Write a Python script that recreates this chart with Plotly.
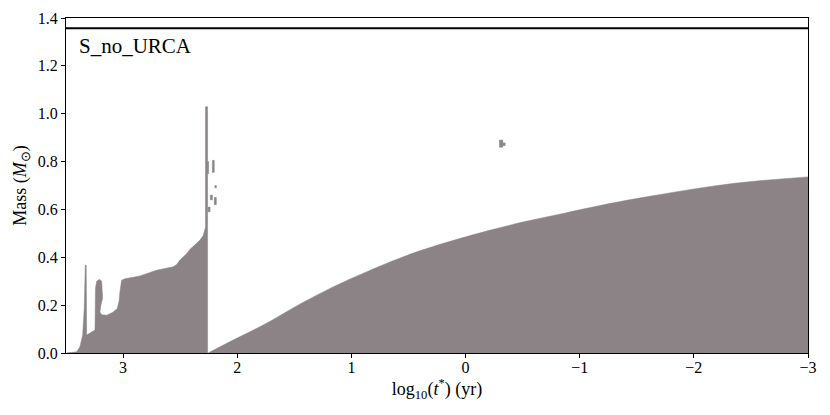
import plotly.graph_objects as go

# model label and total stellar mass
model_name = "S_no_URCA"
total_mass = 1.357

# early convective zone (closed outline: top edge left->right, then back along the base)
early_zone_logt = [3.494, 3.406, 3.378, 3.354, 3.340, 3.331, 3.323, 3.319, 3.246, 3.242,
                   3.231, 3.207, 3.188, 3.179, 3.194, 3.203, 3.188, 3.144, 3.089, 3.051,
                   3.034, 3.028, 3.013, 2.984, 2.853, 2.706, 2.561, 2.531, 2.503, 2.444,
                   2.415, 2.328, 2.299, 2.293, 2.278, 2.278, 2.260, 2.260, 3.494]
early_zone_mass = [0.0, 0.005, 0.026, 0.075, 0.19, 0.367, 0.367, 0.075, 0.096, 0.27,
                   0.30, 0.308, 0.30, 0.23, 0.20, 0.172, 0.16, 0.158, 0.17, 0.186,
                   0.22, 0.255, 0.304, 0.31, 0.322, 0.346, 0.36, 0.37, 0.388, 0.415,
                   0.433, 0.471, 0.49, 0.50, 0.526, 1.029, 1.029, 0.0, 0.0]

# small detached convective patches: (logt_left, logt_right, m_bottom, m_top)
patch_logt_left = [2.218, 2.196, 2.236, 2.201, 2.260, 2.255, -0.297, -0.326]
patch_logt_right = [2.201, 2.183, 2.218, 2.183, 2.251, 2.238, -0.326, -0.347]
patch_mass_bottom = [0.755, 0.690, 0.640, 0.620, 0.750, 0.590, 0.860, 0.867]
patch_mass_top = [0.805, 0.700, 0.660, 0.650, 0.800, 0.610, 0.890, 0.878]

# late convective core boundary
late_zone_logt = [2.255, 2.036, 1.744, 1.453, 1.161, 0.869, 0.578, 0.374, 0.082, -0.210,
                  -0.501, -0.793, -1.084, -1.434, -1.763, -2.060, -2.356, -2.651, -3.0]
late_zone_mass = [0.0, 0.054, 0.124, 0.204, 0.276, 0.339, 0.396, 0.431, 0.474, 0.5125,
                  0.547, 0.577, 0.607, 0.640, 0.667, 0.690, 0.709, 0.723, 0.736]

x_ticks = [3, 2, 1, 0, -1, -2, -3]
y_ticks = [0.0, 0.2, 0.4, 0.6, 0.8, 1.0, 1.2, 1.4]

conv_color = "#8b8385"
font_family = "Liberation Serif, Times New Roman, serif"

fig = go.Figure()

fig.add_trace(go.Scatter(x=early_zone_logt, y=early_zone_mass, mode="lines", fill="toself",
                         fillcolor=conv_color, line=dict(color=conv_color, width=0.5),
                         hoverinfo="skip"))

for x0, x1, y0, y1 in zip(patch_logt_left, patch_logt_right, patch_mass_bottom, patch_mass_top):
    fig.add_trace(go.Scatter(x=[x0, x1, x1, x0, x0], y=[y0, y0, y1, y1, y0], mode="lines",
                             fill="toself", fillcolor=conv_color,
                             line=dict(color=conv_color, width=0.5), hoverinfo="skip"))

fig.add_trace(go.Scatter(x=late_zone_logt, y=late_zone_mass, mode="lines", fill="tozeroy",
                         fillcolor=conv_color, line=dict(color=conv_color, width=0.5),
                         line_shape="spline", hoverinfo="skip"))

# total mass line
fig.add_trace(go.Scatter(x=[3.5, -3.0], y=[total_mass, total_mass], mode="lines",
                         line=dict(color="black", width=2), hoverinfo="skip"))

fig.add_annotation(x=0.015, y=0.915, xref="paper", yref="paper", text=model_name,
                   showarrow=False, xanchor="left", yanchor="middle",
                   font=dict(family=font_family, size=21, color="black"))

# the page body adds an 8px offset, so margins are shifted to compensate
fig.update_layout(
    width=830, height=415,
    margin=dict(l=58, r=30, t=10, b=70, autoexpand=False),
    plot_bgcolor="white", paper_bgcolor="white",
    showlegend=False,
    font=dict(family=font_family, size=16, color="black"),
)
fig.update_xaxes(range=[3.5, -3.0], tickvals=x_ticks, ticks="outside", ticklen=4,
                 tickcolor="black", showline=True, linecolor="black", linewidth=1,
                 mirror=True, showgrid=False, zeroline=False, automargin=False,
                 ticklabelstandoff=-4, tickfont=dict(family=font_family, size=16),
                 title=dict(text="log<sub>10</sub>(<i>t</i><sup>*</sup>) (yr)",
                            font=dict(family=font_family, size=18), standoff=0))
fig.update_yaxes(range=[0, 1.4], tickvals=y_ticks, tickformat=".1f", ticks="outside",
                 ticklen=4, tickcolor="black", showline=True, linecolor="black",
                 linewidth=1, mirror=True, showgrid=False, zeroline=False, automargin=False,
                 tickfont=dict(family=font_family, size=16),
                 title=dict(text="Mass (<i>M</i><sub>⊙</sub>)",
                            font=dict(family=font_family, size=18), standoff=6))

fig.write_html("out.html")
